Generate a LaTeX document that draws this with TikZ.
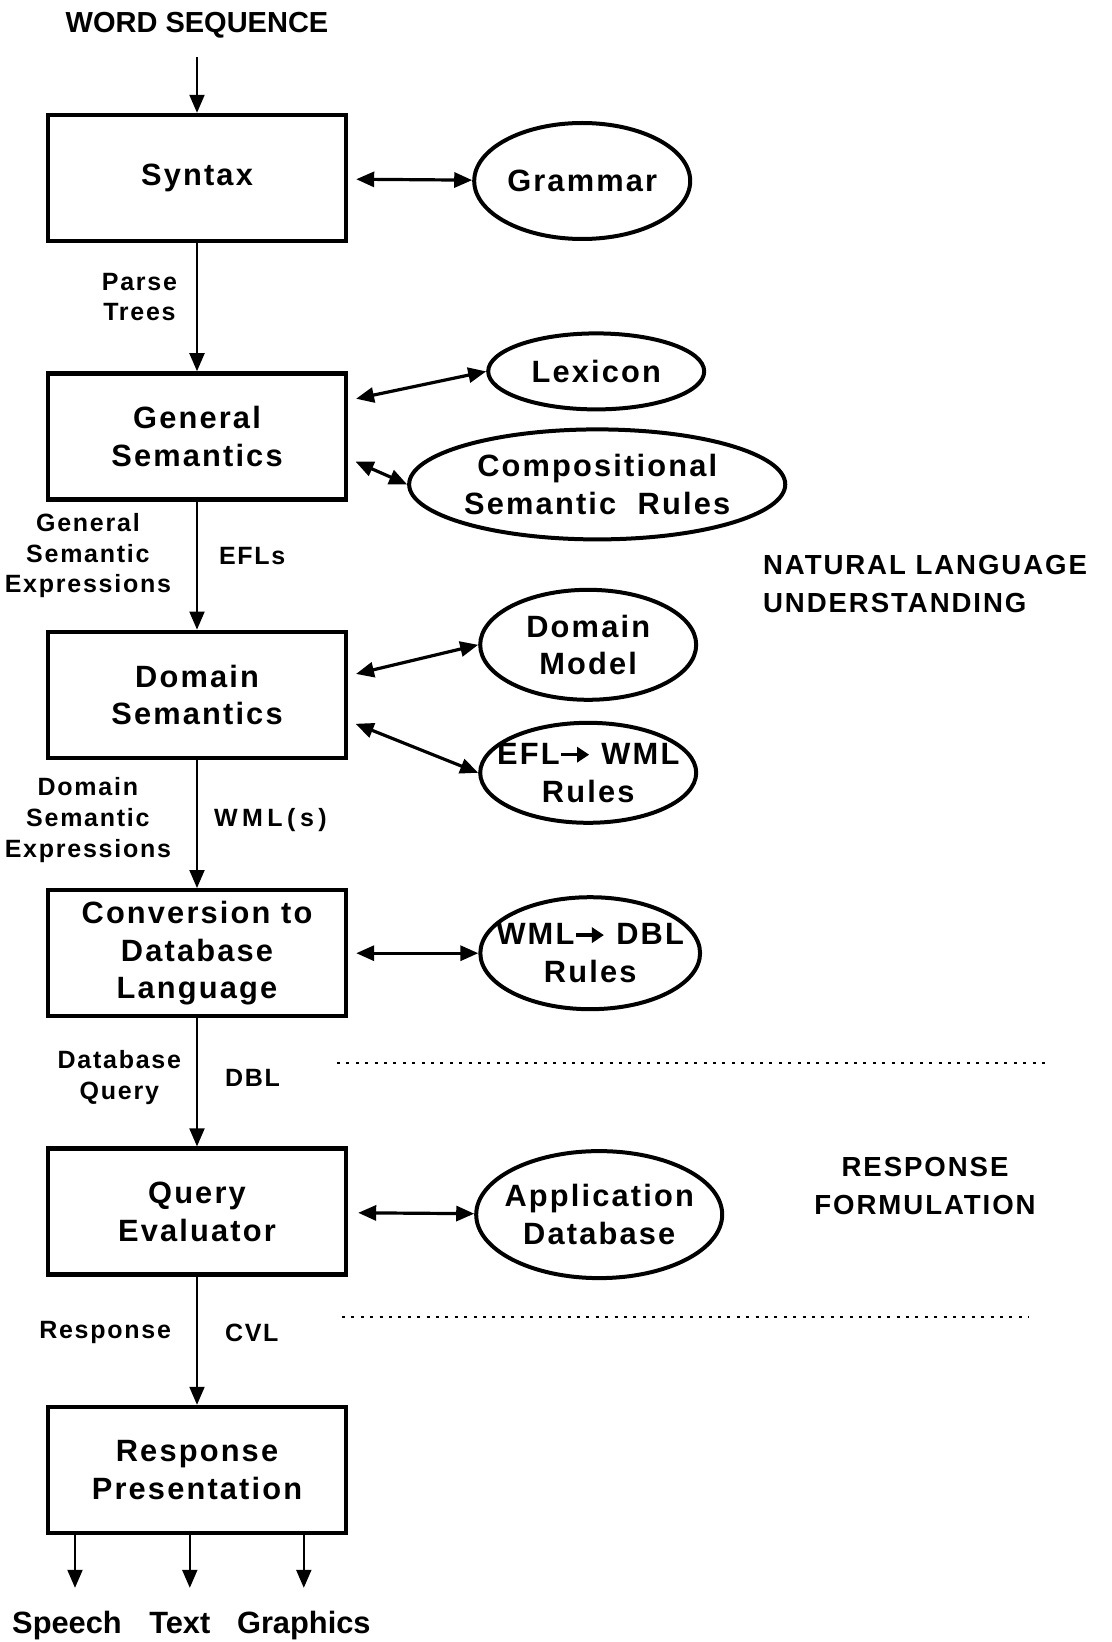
\documentclass[tikz,border=0pt]{standalone}
\usepackage{fontspec}
\setmainfont{Liberation Sans}
\newfontfamily\spacedfont{Liberation Sans}[LetterSpace=7]
\usepackage{tikz}
\usetikzlibrary{positioning, arrows.meta, shapes.geometric}

\newcommand{\ruleto}{\tikz[baseline=-0.6ex]\draw[line width=1.6pt,
  -{Triangle[length=6pt,width=7.5pt]}] (0,0) -- (14pt,0);}

\begin{document}
\begin{tikzpicture}[
  every node/.style={font=\spacedfont\bfseries\fontsize{15.4}{18.8}\selectfont},
  stage/.style={draw, line width=2.2pt, minimum width=149pt, minimum height=63pt,
    align=center, inner sep=2pt},
  store/.style={draw, ellipse, line width=2pt, align=center, inner sep=0pt},
  tight/.style={inner xsep=-8pt},
  lbl/.style={font=\spacedfont\bfseries\fontsize{12.5}{15.3}\selectfont,
    align=center, inner sep=2pt},
  area/.style={font=\spacedfont\bfseries\fontsize{13.8}{19}\selectfont},
  outtext/.style={font=\bfseries\fontsize{15.4}{18}\selectfont, anchor=base},
  flow/.style={-{Triangle[length=9pt,width=7.5pt]}, line width=1pt},
  link/.style={{Triangle[length=9pt,width=7.5pt]}-{Triangle[length=9pt,width=7.5pt]},
    line width=1.6pt},
  sep/.style={line width=1.2pt, dash pattern=on 1.5pt off 3.2pt}
]
  \useasboundingbox (0,0) rectangle (556pt,-821pt);

  % Main pipeline
  \node[stage] (syntax) at (98.5pt,-89pt) {Syntax};
  \node[stage, below=64pt of syntax] (gensem) {General\\Semantics};
  \node[stage, below=64pt of gensem] (domsem) {Domain\\Semantics};
  \node[stage, below=64pt of domsem] (convert) {Conversion to\\Database\\Language};
  \node[stage, below=64pt of convert] (queryeval) {Query\\Evaluator};
  \node[stage, below=64pt of queryeval] (present) {Response\\Presentation};

  % Input
  \node[font=\bfseries\fontsize{14.5}{17}\selectfont] (wordseq)
    at ([yshift=44pt]syntax.north) {WORD SEQUENCE};

  % Knowledge sources
  \node[store, minimum width=108pt, minimum height=58pt] (grammar)
    at ([xshift=117pt, yshift=-1.5pt]syntax.east) {Grammar};
  \node[store, minimum width=108pt, minimum height=38pt] (lexicon)
    at ([xshift=124pt, yshift=32.5pt]gensem.east) {Lexicon};
  \node[store, minimum width=181pt, minimum height=55pt] (comprules)
    at ([xshift=124.5pt, yshift=-24pt]gensem.east) {Compositional\\Semantic\ \ Rules};
  \node[store, minimum width=108pt, minimum height=55pt] (dommodel)
    at ([xshift=120pt, yshift=25pt]domsem.east) {Domain\\Model};
  \node[store, tight, minimum width=108pt, minimum height=50pt] (eflwml)
    at ([xshift=120pt, yshift=-39pt]domsem.east) {EFL\ruleto\ WML\\Rules};
  \node[store, tight, minimum width=108pt, minimum height=56pt] (wmldbl)
    at ([xshift=121pt]convert.east) {WML\ruleto\ DBL\\Rules};
  \node[store, tight, minimum width=123pt, minimum height=63.5pt] (appdb)
    at ([xshift=125.5pt, yshift=-1.5pt]queryeval.east) {Application\\Database};

  % Arrows down the pipeline
  \draw[flow, shorten <=6pt] (wordseq) -- (syntax);
  \draw[flow] (syntax) -- node[lbl, left=7.5pt, yshift=5pt] {Parse\\Trees} (gensem);
  \draw[flow] (gensem) -- node[lbl, left=10.5pt, yshift=5pt] {General\\Semantic\\Expressions}
    node[lbl, right=8.5pt, yshift=5pt] {EFLs} (domsem);
  \draw[flow] (domsem) -- node[lbl, left=10.5pt, yshift=2pt] {Domain\\Semantic\\Expressions}
    node[lbl, right=6pt, yshift=2pt] {\addfontfeature{LetterSpace=18}WML(s)} (convert);
  \draw[flow] (convert) -- node[lbl, left=5.5pt, yshift=2.5pt] {Database\\Query}
    node[lbl, right=11.5pt, yshift=2.5pt] {DBL} (queryeval);
  \draw[flow] (queryeval) -- node[lbl, left=10.5pt, yshift=4pt] {Response}
    node[lbl, right=11.5pt, yshift=4pt] {CVL} (present);

  % Arrows to knowledge sources
  \draw[link, shorten <=4pt] (syntax) -- (grammar);
  \draw[link, shorten <=4pt] ([yshift=18pt]gensem.east) -- (lexicon.west);
  \draw[link, shorten <=4pt] ([yshift=-11pt]gensem.east) -- (comprules.west);
  \draw[link, shorten <=4pt] ([yshift=9.5pt]domsem.east) -- (dommodel.west);
  \draw[link, shorten <=4pt] ([yshift=-13pt]domsem.east) -- (eflwml.west);
  \draw[link, shorten <=4pt] (convert) -- (wmldbl);
  \draw[link, shorten <=5pt] (queryeval) -- (appdb);

  % Outputs
  \coordinate (spout) at ([xshift=14.6pt]present.south west);
  \coordinate (txout) at ([xshift=72pt]present.south west);
  \coordinate (grout) at ([xshift=129pt]present.south west);
  \node[outtext] (speech) at ([xshift=-4pt, yshift=-49pt]spout) {Speech};
  \node[outtext] (text) at ([xshift=-5pt, yshift=-49pt]txout) {Text};
  \node[outtext] (graphics) at ([yshift=-49pt]grout) {Graphics};
  \draw[flow, shorten >=8pt] (spout) -- (spout |- speech.north);
  \draw[flow, shorten >=8pt] (txout) -- (txout |- speech.north);
  \draw[flow, shorten >=8pt] (grout) -- (grout |- speech.north);

  % Stage separators and labels
  \draw[sep] (168.5pt,-531.5pt) -- (522.5pt,-531.5pt);
  \draw[sep] (171pt,-658.5pt) -- (514.5pt,-658.5pt);
  \node[area, align=left, anchor=west] (nlu) at (378pt,-292pt)
    {NATURAL LANGUAGE\\UNDERSTANDING};
  \node[area, align=center] (respform) at (462.5pt,-593pt) {RESPONSE\\FORMULATION};
\end{tikzpicture}
\end{document}
